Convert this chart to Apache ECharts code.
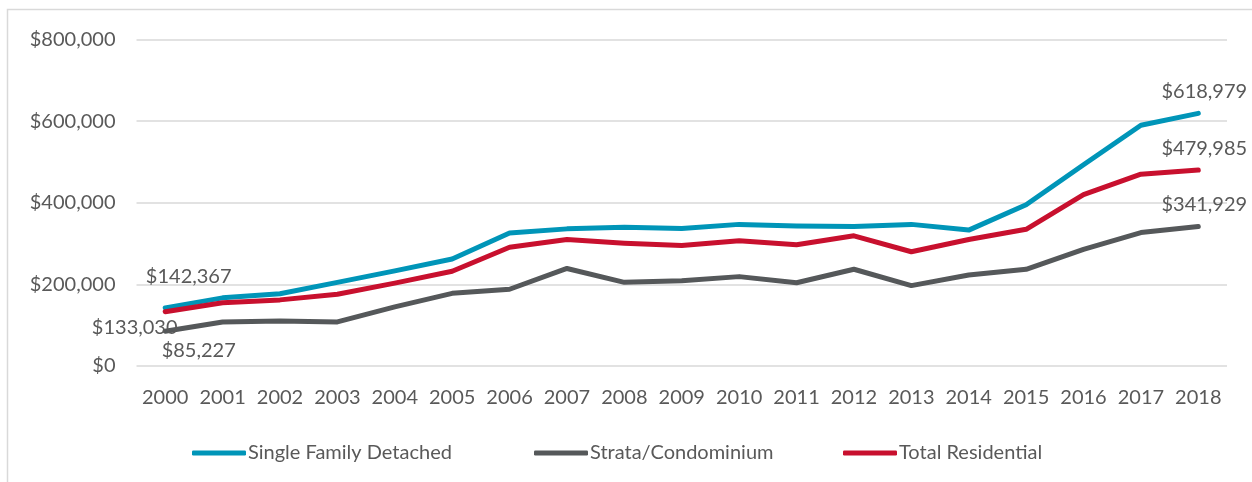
<!DOCTYPE html>
<head>
    <meta charset="utf-8">
    <title>ECharts</title>
    <script type="text/javascript" src="https://cdn.jsdelivr.net/npm/echarts@6/dist/echarts.min.js"></script>
    <style>
        html, body { margin: 0; padding: 0; background: #fff; }
    </style>
</head>
<body>
    <div id="main" style="width:1252px;height:482px"></div>

    <script type="text/javascript">
     // 数据
     var years = ['2000','2001','2002','2003','2004','2005','2006','2007','2008','2009',
                  '2010','2011','2012','2013','2014','2015','2016','2017','2018'];
     var singleFamily = [142367, 167000, 177000, 205000, 233000, 262000, 326000, 336000, 340000, 337000,
                         347000, 343000, 342000, 347000, 333000, 395000, 493000, 590000, 618979];
     var strata = [85227, 108000, 110000, 108000, 145000, 178000, 188000, 239000, 205000, 209000,
                   219000, 204000, 237000, 197000, 223000, 237000, 286000, 327000, 341929];
     var totalRes = [133030, 155000, 162000, 176000, 203000, 232000, 291000, 310000, 301000, 295000,
                     307000, 297000, 319000, 280000, 310000, 335000, 420000, 470000, 479985];
     var yTicks = [0, 200000, 400000, 600000, 800000];
     var seriesNames = ['Single Family Detached', 'Strata/Condominium', 'Total Residential'];

     var textColor = '#595959';
     var fontFamily = 'Lato, "Open Sans", sans-serif';
     var fs = 20;

     function money(v) {
         return '$' + Math.round(v).toString().replace(/\B(?=(\d{3})+(?!\d))/g, ',');
     }

     // 只在首尾显示数值
     function withLabels(values, firstLabel) {
         return values.map(function (v, i) {
             if (i === 0) {
                 return { value: v, label: firstLabel };
             }
             if (i === values.length - 1) {
                 return { value: v, label: { show: true, position: 'top', distance: 8, offset: [6, -3] } };
             }
             return v;
         });
     }

     function makeSeries(name, values, color, firstLabel) {
         return {
             name: name,
             type: 'line',
             data: withLabels(values, firstLabel),
             symbol: 'circle',
             symbolSize: 1,
             showSymbol: true,
             color: color,
             lineStyle: { width: 5, color: color, cap: 'round', join: 'round' },
             itemStyle: { color: color },
             label: {
                 show: false,
                 color: textColor,
                 fontFamily: fontFamily,
                 fontSize: fs,
                 formatter: function (p) { return money(p.value); }
             },
             emphasis: { disabled: true }
         };
     }

     function legendAt(name, left) {
         return {
             data: [name],
             left: left,
             top: 438,
             icon: 'roundRect',
             itemWidth: 54,
             itemHeight: 5,
             textStyle: { color: textColor, fontSize: fs, fontFamily: fontFamily, padding: [0, 0, 0, -3] }
         };
     }

     var myChart = echarts.init(document.getElementById('main'));
     myChart.setOption({
         animation: false,
         backgroundColor: '#fff',
         textStyle: { fontFamily: fontFamily },
         graphic: [{
             type: 'rect',
             shape: { x: 7.5, y: 9.5, width: 1400, height: 600 },
             style: { fill: 'none', stroke: '#d9d9d9', lineWidth: 1.5 },
             silent: true,
             z: -10
         }],
         grid: { left: 136.5, right: 25, top: 39.5, bottom: 116 },
         legend: [
             legendAt(seriesNames[0], 187),
             legendAt(seriesNames[1], 529),
             legendAt(seriesNames[2], 838)
         ],
         xAxis: {
             type: 'category',
             data: years,
             boundaryGap: true,
             axisLine: { show: false },
             axisTick: { show: false },
             axisLabel: { color: textColor, fontSize: fs, margin: 22, interval: 0, fontFamily: fontFamily }
         },
         yAxis: {
             type: 'value',
             min: yTicks[0],
             max: yTicks[yTicks.length - 1],
             interval: yTicks[1] - yTicks[0],
             axisLine: { show: false },
             axisTick: { show: false },
             splitLine: { lineStyle: { color: '#d9d9d9', width: 1.5 } },
             axisLabel: {
                 color: textColor, fontSize: fs, margin: 21, fontFamily: fontFamily,
                 formatter: function (v) { return money(v); }
             }
         },
         series: [
             makeSeries(seriesNames[0], singleFamily, '#0095b8',
                 { show: true, position: [24, -31], align: 'center', verticalAlign: 'middle' }),
             makeSeries(seriesNames[1], strata, '#55585a',
                 { show: true, position: [34, 20], align: 'center', verticalAlign: 'middle' }),
             makeSeries(seriesNames[2], totalRes, '#c8102e',
                 { show: true, position: [-30, 16], align: 'center', verticalAlign: 'middle' })
         ]
     });
    </script>
</body>
